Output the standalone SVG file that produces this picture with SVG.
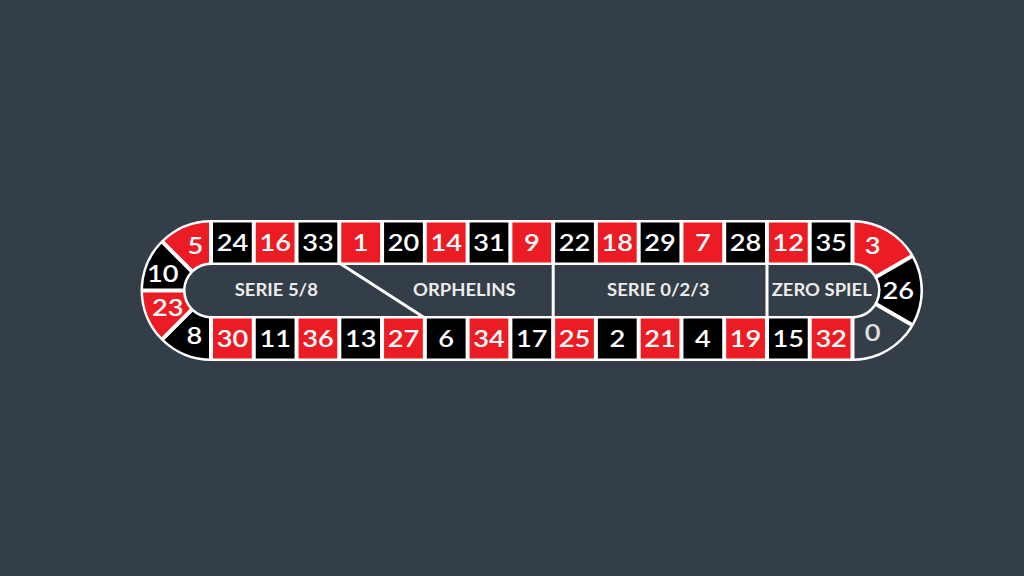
<svg xmlns="http://www.w3.org/2000/svg" width="1024" height="576" viewBox="0 0 1024 576">
<style>
.bg{fill:#343e48}
.r{fill:#ec1c24}
.b{fill:#000000}
.z{fill:#343e48}
.n{font-family:Lato,"Liberation Sans",sans-serif;font-size:23px;font-weight:600;fill:#ffffff;text-anchor:middle}
.n0{fill:#e0e0e0}
.l{font-family:Lato,"Liberation Sans",sans-serif;font-size:16.5px;font-weight:700;fill:#ececec;text-anchor:middle}
.div{stroke:#ffffff;stroke-width:3;fill:none}
</style>
<rect class="bg" x="0" y="0" width="1024" height="576"/>
<g id="frame">
<path fill="#ffffff" d="M211,220 L852.5,220 A70.5,70.5 0 0 1 852.5,361 L211,361 A70.5,70.5 0 0 1 211,220 Z"/>
</g>
<g id="top-row">
<g id="n24"><rect class="b" x="213" y="222.5" width="38.77" height="40"/><text class="n" transform="translate(232.38,250.5) scale(1.18,1)">24</text></g>
<g id="n16"><rect class="r" x="255.77" y="222.5" width="38.77" height="40"/><text class="n" transform="translate(275.15,250.5) scale(1.18,1)">16</text></g>
<g id="n33"><rect class="b" x="298.53" y="222.5" width="38.77" height="40"/><text class="n" transform="translate(317.92,250.5) scale(1.18,1)">33</text></g>
<g id="n1"><rect class="r" x="341.3" y="222.5" width="38.77" height="40"/><text class="n" transform="translate(360.68,250.5) scale(1.18,1)">1</text></g>
<g id="n20"><rect class="b" x="384.07" y="222.5" width="38.77" height="40"/><text class="n" transform="translate(403.45,250.5) scale(1.18,1)">20</text></g>
<g id="n14"><rect class="r" x="426.83" y="222.5" width="38.77" height="40"/><text class="n" transform="translate(446.22,250.5) scale(1.18,1)">14</text></g>
<g id="n31"><rect class="b" x="469.6" y="222.5" width="38.77" height="40"/><text class="n" transform="translate(488.98,250.5) scale(1.18,1)">31</text></g>
<g id="n9"><rect class="r" x="512.37" y="222.5" width="38.77" height="40"/><text class="n" transform="translate(531.75,250.5) scale(1.18,1)">9</text></g>
<g id="n22"><rect class="b" x="555.13" y="222.5" width="38.77" height="40"/><text class="n" transform="translate(574.52,250.5) scale(1.18,1)">22</text></g>
<g id="n18"><rect class="r" x="597.9" y="222.5" width="38.77" height="40"/><text class="n" transform="translate(617.28,250.5) scale(1.18,1)">18</text></g>
<g id="n29"><rect class="b" x="640.67" y="222.5" width="38.77" height="40"/><text class="n" transform="translate(660.05,250.5) scale(1.18,1)">29</text></g>
<g id="n7"><rect class="r" x="683.43" y="222.5" width="38.77" height="40"/><text class="n" transform="translate(702.82,250.5) scale(1.18,1)">7</text></g>
<g id="n28"><rect class="b" x="726.2" y="222.5" width="38.77" height="40"/><text class="n" transform="translate(745.58,250.5) scale(1.18,1)">28</text></g>
<g id="n12"><rect class="r" x="768.97" y="222.5" width="38.77" height="40"/><text class="n" transform="translate(788.35,250.5) scale(1.18,1)">12</text></g>
<g id="n35"><rect class="b" x="811.73" y="222.5" width="38.77" height="40"/><text class="n" transform="translate(831.12,250.5) scale(1.18,1)">35</text></g>
</g>
<g id="bottom-row">
<g id="n30"><rect class="r" x="213" y="318.5" width="38.77" height="40"/><text class="n" transform="translate(232.38,346.5) scale(1.18,1)">30</text></g>
<g id="n11"><rect class="b" x="255.77" y="318.5" width="38.77" height="40"/><text class="n" transform="translate(275.15,346.5) scale(1.18,1)">11</text></g>
<g id="n36"><rect class="r" x="298.53" y="318.5" width="38.77" height="40"/><text class="n" transform="translate(317.92,346.5) scale(1.18,1)">36</text></g>
<g id="n13"><rect class="b" x="341.3" y="318.5" width="38.77" height="40"/><text class="n" transform="translate(360.68,346.5) scale(1.18,1)">13</text></g>
<g id="n27"><rect class="r" x="384.07" y="318.5" width="38.77" height="40"/><text class="n" transform="translate(403.45,346.5) scale(1.18,1)">27</text></g>
<g id="n6"><rect class="b" x="426.83" y="318.5" width="38.77" height="40"/><text class="n" transform="translate(446.22,346.5) scale(1.18,1)">6</text></g>
<g id="n34"><rect class="r" x="469.6" y="318.5" width="38.77" height="40"/><text class="n" transform="translate(488.98,346.5) scale(1.18,1)">34</text></g>
<g id="n17"><rect class="b" x="512.37" y="318.5" width="38.77" height="40"/><text class="n" transform="translate(531.75,346.5) scale(1.18,1)">17</text></g>
<g id="n25"><rect class="r" x="555.13" y="318.5" width="38.77" height="40"/><text class="n" transform="translate(574.52,346.5) scale(1.18,1)">25</text></g>
<g id="n2"><rect class="b" x="597.9" y="318.5" width="38.77" height="40"/><text class="n" transform="translate(617.28,346.5) scale(1.18,1)">2</text></g>
<g id="n21"><rect class="r" x="640.67" y="318.5" width="38.77" height="40"/><text class="n" transform="translate(660.05,346.5) scale(1.18,1)">21</text></g>
<g id="n4"><rect class="b" x="683.43" y="318.5" width="38.77" height="40"/><text class="n" transform="translate(702.82,346.5) scale(1.18,1)">4</text></g>
<g id="n19"><rect class="r" x="726.2" y="318.5" width="38.77" height="40"/><text class="n" transform="translate(745.58,346.5) scale(1.18,1)">19</text></g>
<g id="n15"><rect class="b" x="768.97" y="318.5" width="38.77" height="40"/><text class="n" transform="translate(788.35,346.5) scale(1.18,1)">15</text></g>
<g id="n32"><rect class="r" x="811.73" y="318.5" width="38.77" height="40"/><text class="n" transform="translate(831.12,346.5) scale(1.18,1)">32</text></g>
</g>
<g id="left-end">
<g id="n5"><path class="r" d="M164.35,241.02 A68,68 0 0 1 209,222.53 L209,262.57 A28,28 0 0 0 192.67,269.34 Z"/><text class="n" transform="translate(195.3,254) scale(1.18,1)">5</text></g>
<g id="n10"><path class="b" d="M143.03,288.5 A68,68 0 0 1 161.52,243.85 L189.84,272.17 A28,28 0 0 0 183.07,288.5 Z"/><text class="n" transform="translate(162.7,282.3) scale(1.18,1)">10</text></g>
<g id="n23"><path class="r" d="M143.03,292.5 A68,68 0 0 0 161.52,337.15 L189.84,308.83 A28,28 0 0 1 183.07,292.5 Z"/><text class="n" transform="translate(167.7,316.3) scale(1.18,1)">23</text></g>
<g id="n8"><path class="b" d="M164.35,339.98 A68,68 0 0 0 209,358.47 L209,318.43 A28,28 0 0 1 192.67,311.66 Z"/><text class="n" transform="translate(194.3,343.9) scale(1.18,1)">8</text></g>
</g>
<g id="right-end">
<g id="n3"><path class="r" d="M854.5,222.53 A68,68 0 0 1 910.36,254.78 L875.69,274.8 A28,28 0 0 0 854.5,262.57 Z"/><text class="n" transform="translate(872.7,253.8) scale(1.18,1)">3</text></g>
<g id="n26"><path class="b" d="M912.36,258.25 A68,68 0 0 1 912.36,322.75 L877.69,302.73 A28,28 0 0 0 877.69,278.27 Z"/><text class="n" transform="translate(898.3,299.3) scale(1.18,1)">26</text></g>
<g id="n0"><path class="z" d="M854.5,358.47 A68,68 0 0 0 910.36,326.22 L875.69,306.2 A28,28 0 0 1 854.5,318.43 Z"/><text class="n n0" transform="translate(872.7,340.7) scale(1.18,1)">0</text></g>
</g>
<g id="inner">
<path class="bg" d="M211,265 L852.5,265 A25.5,25.5 0 0 1 852.5,316 L211,316 A25.5,25.5 0 0 1 211,265 Z"/>
</g>
<g id="connectors">
<line class="div" x1="339.3" y1="263" x2="424.85" y2="318"/>
<line class="div" x1="553.2" y1="263" x2="553.2" y2="318"/>
<line class="div" x1="767" y1="263" x2="767" y2="318"/>
</g>
<g id="labels">
<g id="serie58"><text class="l" transform="translate(276.3,296) scale(1.12,1)">SERIE 5/8</text></g>
<g id="orphelins"><text class="l" transform="translate(464.3,296) scale(1.12,1)">ORPHELINS</text></g>
<g id="serie023"><text class="l" transform="translate(658.3,296) scale(1.12,1)">SERIE 0/2/3</text></g>
<g id="zerospiel"><text class="l" transform="translate(821.7,296) scale(1.12,1)">ZERO SPIEL</text></g>
</g>
</svg>
